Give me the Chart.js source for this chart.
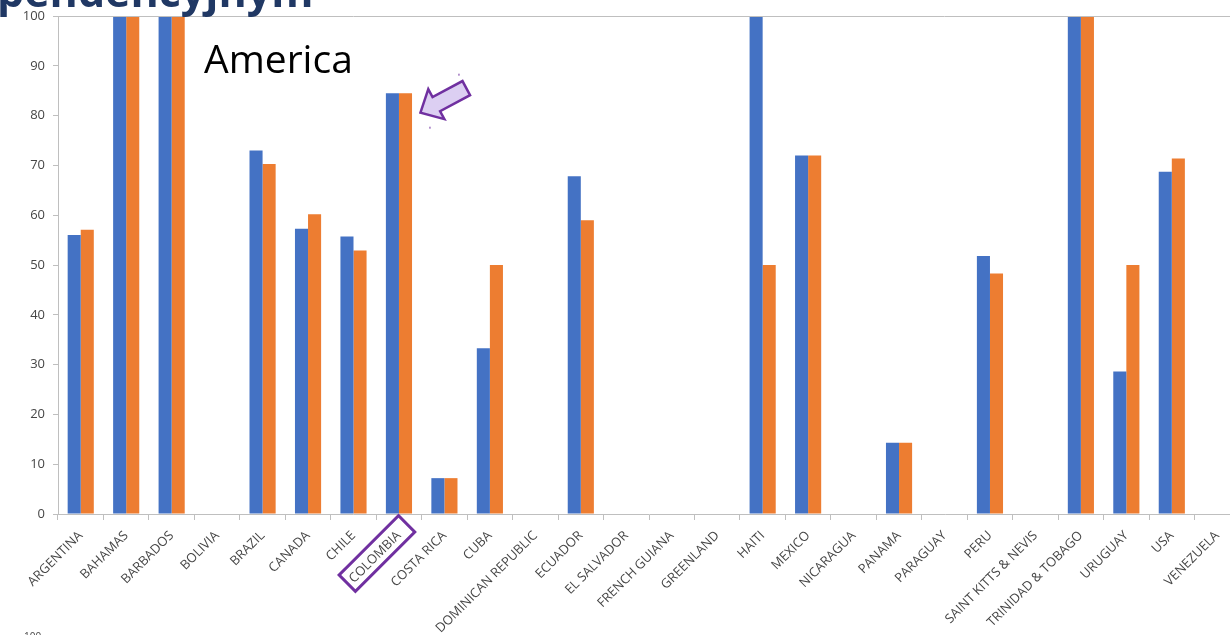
<!DOCTYPE html>
<html>
<head>
<meta charset="utf-8">
<script src="https://cdn.jsdelivr.net/npm/chart.js@4.4.1/dist/chart.umd.min.js"></script>
<style>
  html, body { margin: 0; padding: 0; background: #fff; overflow: hidden; }
  #wrap { position: relative; width: 1230px; height: 635px; overflow: hidden; }
  #box { position: absolute; left: 0; top: 0; width: 1244px; height: 635px; }
</style>
</head>
<body>
<div id="wrap"><div id="box"><canvas id="barChart"></canvas></div></div>
<script>
const countries = [
  'ARGENTINA', 'BAHAMAS', 'BARBADOS', 'BOLIVIA', 'BRAZIL', 'CANADA', 'CHILE',
  'COLOMBIA', 'COSTA RICA', 'CUBA', 'DOMINICAN REPUBLIC', 'ECUADOR',
  'EL SALVADOR', 'FRENCH GUIANA', 'GREENLAND', 'HAITI', 'MEXICO', 'NICARAGUA',
  'PANAMA', 'PARAGUAY', 'PERU', 'SAINT KITTS & NEVIS', 'TRINIDAD & TOBAGO',
  'URUGUAY', 'USA', 'VENEZUELA'
];
const seriesBlue = [
  56.0, 100, 100, 0, 73.0, 57.3, 55.7,
  84.5, 7.2, 33.3, 0, 67.8,
  0, 0, 0, 100, 72.0, 0,
  14.3, 0, 51.8, 0, 100,
  28.6, 68.7, 0
];
const seriesOrange = [
  57.1, 100, 100, 0, 70.3, 60.2, 52.9,
  84.5, 7.2, 50.0, 0, 59.0,
  0, 0, 0, 50.0, 72.0, 0,
  14.3, 0, 48.3, 0, 100,
  50.0, 71.4, 0
];
const yTicks = [0, 10, 20, 30, 40, 50, 60, 70, 80, 90, 100];

const axisGrey = '#bfbfbf';
const labelGrey = '#464646';

// slide title, "America" caption, arrow and the box around the highlighted label
const overlay = {
  id: 'overlay',
  afterDraw(chart) {
    const { ctx, chartArea, scales } = chart;
    const x = scales.x, y = scales.y;

    ctx.save();
    // frame top edge
    ctx.strokeStyle = axisGrey;
    ctx.lineWidth = 1;
    ctx.beginPath();
    ctx.moveTo(chartArea.left, chartArea.top + 0.5);
    ctx.lineTo(chartArea.right, chartArea.top + 0.5);
    ctx.stroke();

    // title, mostly above the visible area
    ctx.fillStyle = '#203864';
    ctx.font = 'bold 43px "Open Sans", sans-serif';
    ctx.textBaseline = 'alphabetic';
    ctx.fillText('pendencyjnym', -3, 7);

    ctx.fillStyle = '#000';
    ctx.font = '39px "Open Sans", sans-serif';
    ctx.fillText('America', 204, 73);

    ctx.fillStyle = labelGrey;
    ctx.font = '10px "Open Sans", sans-serif';
    ctx.fillText('100', 24, 640);

    // arrow pointing at the Colombia bars
    const idx = countries.indexOf('COLOMBIA');
    const barX = x.getPixelForValue(idx);
    const tipX = barX + 21.5;
    const tipY = y.getPixelForValue(seriesBlue[idx]) + 19.5;
    ctx.translate(tipX, tipY);
    ctx.rotate(Math.atan2(-24.7, 46));
    const len = 52, head = 18, hw = 17, sw = 8;
    ctx.beginPath();
    ctx.moveTo(0, 0);
    ctx.lineTo(head, -hw);
    ctx.lineTo(head, -sw);
    ctx.lineTo(len, -sw);
    ctx.lineTo(len, sw);
    ctx.lineTo(head, sw);
    ctx.lineTo(head, hw);
    ctx.closePath();
    ctx.fillStyle = '#dccff2';
    ctx.fill();
    ctx.strokeStyle = '#7030a0';
    ctx.lineWidth = 2.5;
    ctx.lineJoin = 'miter';
    ctx.stroke();
    ctx.setTransform(1, 0, 0, 1, 0, 0);

    // small handles left over from the arrow selection
    ctx.fillStyle = '#7030a0';
    ctx.fillRect(tipX + 38, tipY - 39, 1, 2);
    ctx.fillRect(tipX + 9, tipY + 14, 1, 2);

    // box around the COLOMBIA tick label
    ctx.translate(barX - 22, 553.5);
    ctx.rotate(-Math.PI / 4);
    ctx.strokeStyle = '#7030a0';
    ctx.lineWidth = 3;
    ctx.strokeRect(-42, -11.5, 84, 23);
    ctx.restore();
  }
};

new Chart(document.getElementById('barChart'), {
  type: 'bar',
  data: {
    labels: countries,
    datasets: [
      { label: 'A', data: seriesBlue, backgroundColor: '#4472c4', borderWidth: 0 },
      { label: 'B', data: seriesOrange, backgroundColor: '#ed7d31', borderWidth: 0 }
    ]
  },
  options: {
    responsive: true,
    maintainAspectRatio: false,
    animation: false,
    events: [],
    layout: { padding: { top: 16, right: 4, left: 0, bottom: 0 } },
    plugins: { legend: { display: false }, tooltip: { enabled: false } },
    datasets: { bar: { categoryPercentage: 0.575, barPercentage: 1 } },
    scales: {
      x: {
        grid: {
          offset: true,
          drawOnChartArea: false,
          drawTicks: true,
          tickLength: 6,
          color: axisGrey
        },
        border: { color: axisGrey, width: 1 },
        ticks: {
          autoSkip: false,
          maxRotation: 45,
          minRotation: 45,
          color: labelGrey,
          padding: 8,
          font: { family: '"Open Sans", sans-serif', size: 13 }
        },
        afterFit(s) { s.height = 121; }
      },
      y: {
        min: 0,
        max: 100,
        afterBuildTicks(s) { s.ticks = yTicks.map(v => ({ value: v })); },
        grid: {
          drawOnChartArea: false,
          drawTicks: true,
          tickLength: 5,
          color: axisGrey
        },
        border: { color: axisGrey, width: 1 },
        ticks: {
          color: labelGrey,
          padding: 8,
          font: { family: '"Open Sans", sans-serif', size: 13 }
        },
        afterFit(s) { s.width = 58; }
      }
    }
  },
  plugins: [overlay]
});
</script>
</body>
</html>
